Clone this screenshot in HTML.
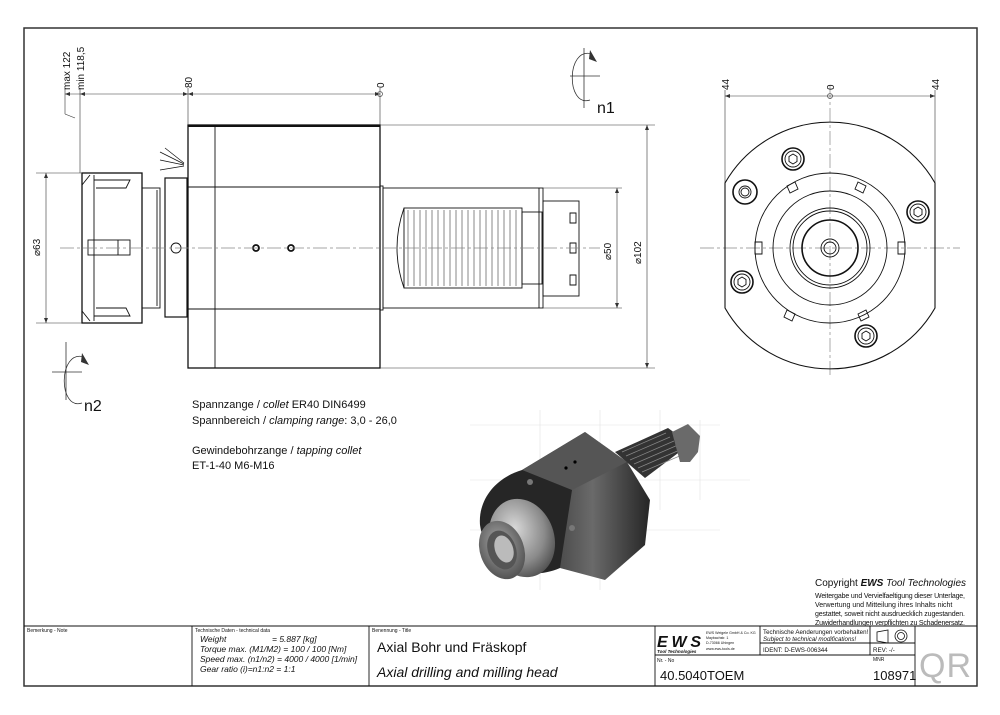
<!DOCTYPE html>
<html><head><meta charset="utf-8"><style>
html,body{margin:0;padding:0;background:#fff}
svg{display:block}
text{font-family:"Liberation Sans",sans-serif;fill:#111}
</style></head><body>
<svg width="1000" height="715" viewBox="0 0 1000 715" xmlns="http://www.w3.org/2000/svg">
<defs>
<linearGradient id="g1" x1="0" y1="0" x2="1" y2="1"><stop offset="0" stop-color="#6a6a6a"/><stop offset="0.5" stop-color="#3a3a3a"/><stop offset="1" stop-color="#1a1a1a"/></linearGradient>
<linearGradient id="g2" x1="0" y1="0" x2="1" y2="0"><stop offset="0" stop-color="#2a2a2a"/><stop offset="0.55" stop-color="#6a6a6a"/><stop offset="1" stop-color="#262626"/></linearGradient>
<radialGradient id="g3" cx="0.45" cy="0.35" r="0.75"><stop offset="0" stop-color="#d8d8d8"/><stop offset="0.6" stop-color="#8a8a8a"/><stop offset="1" stop-color="#3a3a3a"/></radialGradient>
<radialGradient id="g4" cx="0.5" cy="0.4" r="0.7"><stop offset="0" stop-color="#aaa"/><stop offset="1" stop-color="#444"/></radialGradient>
</defs>
<rect x="24" y="28" width="953" height="658" fill="none" stroke="#333" stroke-width="1.5"/>
<g fill="none" stroke="#111" stroke-width="0.9">
<line x1="24" y1="626" x2="977" y2="626"/>
<line x1="192" y1="626" x2="192" y2="686"/>
<line x1="369" y1="626" x2="369" y2="686"/>
<line x1="655" y1="626" x2="655" y2="686"/>
<line x1="655" y1="655" x2="915" y2="655"/>
<line x1="760" y1="626" x2="760" y2="655"/>
<line x1="760" y1="643" x2="915" y2="643"/>
<line x1="870" y1="626" x2="870" y2="655"/>
<line x1="915" y1="626" x2="915" y2="686"/>
<rect x="188" y="125" width="192" height="243" stroke-width="1.3"/>
<line x1="188" y1="126" x2="380" y2="126" stroke-width="2"/>
<line x1="215" y1="125" x2="215" y2="368"/>
<line x1="188" y1="187" x2="380" y2="187"/>
<line x1="188" y1="309" x2="380" y2="309"/>
<rect x="380" y="186" width="3" height="124"/>
<rect x="383" y="188" width="160" height="120"/>
<line x1="539" y1="188" x2="539" y2="308"/>
<path d="M404 208 Q390 248 404 288"/>
<rect x="404" y="208" width="118" height="80"/>
<g stroke-width="0.5"><path d="M408 210v76M414 210v76M420 210v76M426 210v76M432 210v76M438 210v76M444 210v76M450 210v76M456 210v76M462 210v76M468 210v76M474 210v76M480 210v76M486 210v76M492 210v76M498 210v76M504 210v76M510 210v76M516 210v76"/></g>
<rect x="522" y="212" width="20" height="72"/>
<rect x="543" y="201" width="36" height="95"/>
<path d="M570 213h6v10h-6zM570 243h6v10h-6zM570 275h6v10h-6z"/>
<rect x="82" y="173" width="60" height="150" stroke-width="1.3"/>
<line x1="94" y1="175" x2="94" y2="321"/>
<path d="M82 185 L90 175 M82 311 L90 321"/>
<path d="M94 180 L130 180 L126 188 L96 188 M94 316 L130 316 L126 308 L96 308"/>
<rect x="88" y="240" width="42" height="15"/>
<line x1="118" y1="240" x2="118" y2="255"/>
<rect x="142" y="188" width="18" height="120"/>
<line x1="157" y1="190" x2="157" y2="306"/>
<rect x="165" y="178" width="22" height="139" stroke-width="1.2"/>
<circle cx="176" cy="248" r="5"/>
<path d="M160 160 L184 165 M160 152 L184 164 M165 148 L184 163 M160 170 L184 166" stroke-width="0.7"/>
<circle cx="256" cy="248" r="3" stroke-width="1.8"/>
<circle cx="291" cy="248" r="3" stroke-width="1.8"/>
</g>
<g stroke="#888" stroke-width="0.7" fill="none">
<line x1="60" y1="248" x2="600" y2="248" stroke-dasharray="14,3,3,3"/>
<line x1="830" y1="85" x2="830" y2="375" stroke-dasharray="14,3,3,3"/>
<line x1="700" y1="248" x2="960" y2="248" stroke-dasharray="14,3,3,3"/>
</g>
<g stroke="#333" stroke-width="0.6" fill="none">
<line x1="65" y1="94" x2="380" y2="94"/>
<line x1="65" y1="88" x2="65" y2="114"/><path d="M65 114 L75 118"/>
<line x1="80" y1="88" x2="80" y2="173"/>
<line x1="188" y1="88" x2="188" y2="125"/>
<line x1="380" y1="88" x2="380" y2="125"/>
<circle cx="380" cy="94" r="2.5"/>
<line x1="36" y1="173" x2="82" y2="173"/><line x1="36" y1="323" x2="82" y2="323"/>
<line x1="46" y1="173" x2="46" y2="323"/>
<line x1="543" y1="188" x2="622" y2="188"/><line x1="543" y1="308" x2="622" y2="308"/>
<line x1="617" y1="188" x2="617" y2="308"/>
<line x1="380" y1="125" x2="655" y2="125"/><line x1="380" y1="368" x2="655" y2="368"/>
<line x1="647" y1="125" x2="647" y2="368"/>
<line x1="725" y1="96" x2="935" y2="96"/>
<line x1="725" y1="90" x2="725" y2="183"/><line x1="935" y1="90" x2="935" y2="183"/>
<circle cx="830" cy="96" r="2.5"/>
</g>
<g fill="#333">
<path d="M65 94 l5-2v4z M80 94 l5-2v4z M188 94 l-5-2v4z M188 94 l5-2v4z M380 94 l-5-2v4z"/>
<path d="M46 173 l-2 5h4z M46 323 l-2-5h4z M617 188 l-2 5h4z M617 308 l-2-5h4z M647 125 l-2 5h4z M647 368 l-2-5h4z"/>
<path d="M725 96 l5-2v4z M935 96 l-5-2v4z"/>
</g>
<g font-size="10">
<text transform="translate(70,90) rotate(-90)">max 122</text>
<text transform="translate(84,90) rotate(-90)">min 118,5</text>
<text transform="translate(192,88) rotate(-90)">80</text>
<text transform="translate(384,88) rotate(-90)">0</text>
<text transform="translate(40,256) rotate(-90)">⌀63</text>
<text transform="translate(611,260) rotate(-90)">⌀50</text>
<text transform="translate(641,264) rotate(-90)">⌀102</text>
<text transform="translate(729,90) rotate(-90)">44</text>
<text transform="translate(834,90) rotate(-90)">0</text>
<text transform="translate(939,90) rotate(-90)">44</text>
</g>
<g stroke="#333" stroke-width="0.8" fill="none">
<path d="M592 54 C566 46 566 108 590 100"/><line x1="570" y1="76" x2="600" y2="76"/><line x1="584" y1="48" x2="584" y2="108"/>
<path d="M84 357 C58 349 58 411 82 403"/><line x1="52" y1="372" x2="82" y2="372"/><line x1="66" y1="342" x2="66" y2="400"/>
</g>
<path d="M590 50 l7 12 l-8-3z M82 353 l7 12 l-8-3z" fill="#333"/>
<text x="597" y="113" font-size="16">n1</text>
<text x="84" y="411" font-size="16">n2</text>
<g fill="none" stroke="#111" stroke-width="0.9">
<path d="M725 183 A121 121 0 0 1 935 183 L935 308 A121 121 0 0 1 725 308 Z" stroke-width="1.1"/>
<circle cx="830" cy="248" r="75"/>
<circle cx="830" cy="248" r="57"/>
<circle cx="830" cy="248" r="40"/>
<circle cx="830" cy="248" r="37"/>
<circle cx="830" cy="248" r="28" stroke-width="1.6"/>
<circle cx="830" cy="248" r="9"/><circle cx="830" cy="248" r="6"/>
<path d="M755 242h7v12h-7zM898 242h7v12h-7zM787 186l8-4 3 7-8 4zM858 182l8 4-3 7-8-4zM787 310l8 4-3 7-8-4zM858 314l8-4 3 7-8 4z"/>
<g stroke-width="1.6"><circle cx="793" cy="159" r="11"/><circle cx="918" cy="212" r="11"/><circle cx="742" cy="282" r="11"/><circle cx="866" cy="336" r="11"/><circle cx="745" cy="192" r="12"/></g>
<circle cx="793" cy="159" r="8"/><circle cx="918" cy="212" r="8"/><circle cx="742" cy="282" r="8"/><circle cx="866" cy="336" r="8"/><circle cx="745" cy="192" r="6"/><circle cx="745" cy="192" r="4"/>
<path d="M793 154l4 2.5v5l-4 2.5-4-2.5v-5zM918 207l4 2.5v5l-4 2.5-4-2.5v-5zM742 277l4 2.5v5l-4 2.5-4-2.5v-5zM866 331l4 2.5v5l-4 2.5-4-2.5v-5z"/>
</g>
<g stroke="#e2e2e2" stroke-width="0.6">
<path d="M470 425h250M470 480h280M470 530h250M540 410v180M600 410v180M660 410v100M700 420v80"/>
</g>
<polygon points="615,452 668,428 690,444 645,478" fill="#333"/>
<g stroke="#888" stroke-width="0.7"><path d="M622 452l44-19M626 456l44-19M630 460l44-19M634 464l44-19M638 468l44-19M642 472l40-17"/></g>
<polygon points="672,432 688,424 700,436 698,452 690,462 680,462" fill="#6a6a6a"/>
<polygon points="522,470 585,432 627,462 650,500 645,545 605,580 560,568" fill="url(#g2)"/>
<polygon points="522,470 585,432 627,462 572,490" fill="#555"/>
<path d="M522 470 L572 490 L560 568 C520 585 485 560 480 525 C478 500 495 478 522 470Z" fill="#262626"/>
<circle cx="566" cy="468" r="1.6" fill="#000"/><circle cx="575" cy="462" r="1.6" fill="#000"/>
<circle cx="530" cy="482" r="3" fill="#777"/><circle cx="572" cy="528" r="3" fill="#777"/><circle cx="540" cy="567" r="3" fill="#777"/>
<ellipse cx="522" cy="538" rx="32" ry="40" fill="url(#g3)" transform="rotate(-20 522 538)"/>
<ellipse cx="502" cy="550" rx="22" ry="30" fill="url(#g4)" transform="rotate(-20 502 550)"/>
<ellipse cx="502" cy="550" rx="14" ry="20" fill="#555" transform="rotate(-20 502 550)"/>
<ellipse cx="504" cy="549" rx="9" ry="14" fill="#bbb" transform="rotate(-20 504 549)"/>
<g font-size="11">
<text x="192" y="408">Spannzange / <tspan font-style="italic">collet</tspan>    ER40    DIN6499</text>
<text x="192" y="424">Spannbereich / <tspan font-style="italic">clamping range</tspan>: 3,0  -  26,0</text>
<text x="192" y="454">Gewindebohrzange / <tspan font-style="italic">tapping collet</tspan></text>
<text x="192" y="469">ET-1-40   M6-M16</text>
</g>
<text x="815" y="586" font-size="10">Copyright <tspan font-weight="bold" font-style="italic">EWS</tspan> <tspan font-style="italic">Tool Technologies</tspan></text>
<g font-size="7"><text x="815" y="598" textLength="150">Weitergabe und Vervielfaeltigung dieser Unterlage,</text>
<text x="815" y="607">Verwertung und Mitteilung ihres Inhalts nicht</text>
<text x="815" y="616" textLength="150">gestattet, soweit nicht ausdruecklich zugestanden.</text>
<text x="815" y="625" textLength="150">Zuwiderhandlungen verpflichten zu Schadenersatz.</text></g>
<g font-size="5"><text x="27" y="632">Bemerkung - Note</text><text x="195" y="632">Technische Daten - technical data</text><text x="372" y="632">Benennung - Title</text><text x="657" y="662">Nr. - No</text><text x="873" y="661">MNR</text></g>
<g font-size="8.5" font-style="italic">
<text x="200" y="642">Weight</text><text x="272" y="642">=  5.887 [kg]</text>
<text x="200" y="652">Torque max. (M1/M2)  =  100 / 100 [Nm]</text>
<text x="200" y="662">Speed max.  (n1/n2)  =  4000 / 4000 [1/min]</text>
<text x="200" y="672">Gear ratio  (i)=n1:n2 =  1:1</text>
</g>
<text x="377" y="652" font-size="14">Axial Bohr und Fräskopf</text>
<text x="377" y="677" font-size="14" font-style="italic">Axial drilling and milling head</text>
<text x="657" y="647" font-size="16" font-weight="bold" font-style="italic" textLength="44">EWS</text>
<text x="657" y="653" font-size="4.5" font-weight="bold" font-style="italic">Tool Technologies</text>
<g font-size="3.6"><text x="706" y="634">EWS Weigele GmbH &amp; Co. KG</text><text x="706" y="639">Maybachstr. 1</text><text x="706" y="644">D-73066 Uhingen</text><text x="706" y="650">www.ews-tools.de</text></g>
<g font-size="6.2"><text x="763" y="634">Technische Aenderungen vorbehalten!</text><text x="763" y="641" font-style="italic">Subject to technical modifications!</text>
<text x="763" y="652">IDENT:  D-EWS-006344</text><text x="873" y="652">REV:  -/-</text></g>
<g fill="none" stroke="#111" stroke-width="0.8"><path d="M877 632 L877 641 L888 643 L888 630 Z"/><circle cx="901" cy="636" r="6"/><circle cx="901" cy="636" r="3.5"/></g>
<text x="660" y="680" font-size="13">40.5040TOEM</text>
<text x="873" y="680" font-size="13">108971</text>
<text x="919" y="677" font-size="34" textLength="52" style="fill:#bbb">QR</text>
</svg>
</body></html>
